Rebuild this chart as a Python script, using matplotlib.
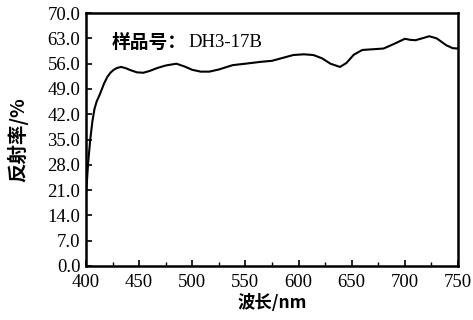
import numpy as np
import matplotlib
matplotlib.use('Agg')
import matplotlib.pyplot as plt
from matplotlib.ticker import MultipleLocator

# reflectance curve
wavelength = [400, 401, 402, 404, 406, 408, 410, 413, 417, 420, 423, 426, 429, 433, 437,
              442, 448, 454, 460, 467, 475, 485, 493, 500, 508, 516, 525, 538, 550,
              564, 575, 585, 595, 605, 614, 622, 630, 639, 645, 652, 660, 670, 680,
              690, 700, 705, 710, 716, 723, 730, 739, 745, 750]
reflectance = [20.0, 24.0, 28.5, 35.0, 40.0, 43.5, 45.5, 47.5, 50.5, 52.3, 53.5, 54.3, 54.8, 55.1, 54.8,
               54.2, 53.6, 53.5, 54.0, 54.8, 55.5, 56.0, 55.2, 54.3, 53.8, 53.8, 54.4, 55.6, 56.0,
               56.5, 56.8, 57.6, 58.4, 58.6, 58.4, 57.5, 56.0, 55.1, 56.2, 58.5, 59.8, 60.0, 60.2,
               61.5, 62.9, 62.6, 62.5, 63.0, 63.6, 63.0, 61.1, 60.3, 60.2]

y_ticks = [0, 7, 14, 21, 28, 35, 42, 49, 56, 63, 70]
x_ticks = [400, 450, 500, 550, 600, 650, 700, 750]

serif = ['Liberation Serif', 'Noto Sans CJK SC']
cjk = ['Noto Sans CJK SC', 'Liberation Serif']

fig = plt.figure(figsize=(4.73, 3.2), dpi=100)
ax = fig.add_axes([0.1818, 0.16875, 0.9683 - 0.1818, 0.959 - 0.16875])

ax.plot(wavelength, reflectance, color='black', lw=1.5)

ax.set_xlim(400, 750)
ax.set_ylim(0, 70)
ax.set_xticks(x_ticks)
ax.xaxis.set_minor_locator(MultipleLocator(25))
ax.set_yticks(y_ticks)
ax.set_yticklabels(['%.1f' % v for v in y_ticks], family=serif, fontsize=13.5)
ax.set_xticklabels([str(v) for v in x_ticks], family=serif, fontsize=13.5)
ax.tick_params(axis='both', which='major', direction='in', length=4, width=1.2)
ax.tick_params(axis='y', pad=4)
ax.tick_params(axis='x', pad=6)
ax.tick_params(axis='x', which='minor', direction='in', length=3, width=1.0)
for s in ax.spines.values():
    s.set_linewidth(1.8)

ax.text(0.07, 0.885, '样品号：', transform=ax.transAxes, family=cjk,
        fontsize=13.5, fontweight='bold', va='center', ha='left')
ax.text(0.275, 0.885, 'DH3-17B', transform=ax.transAxes, family=serif,
        fontsize=13.5, va='center', ha='left')
ax.set_xlabel('波长/nm', family=cjk, fontsize=12.5, fontweight='bold', labelpad=2)
ax.set_ylabel('反射率/%', family=cjk, fontsize=14, fontweight='bold', labelpad=14)

fig.savefig('out.png', dpi=100)
